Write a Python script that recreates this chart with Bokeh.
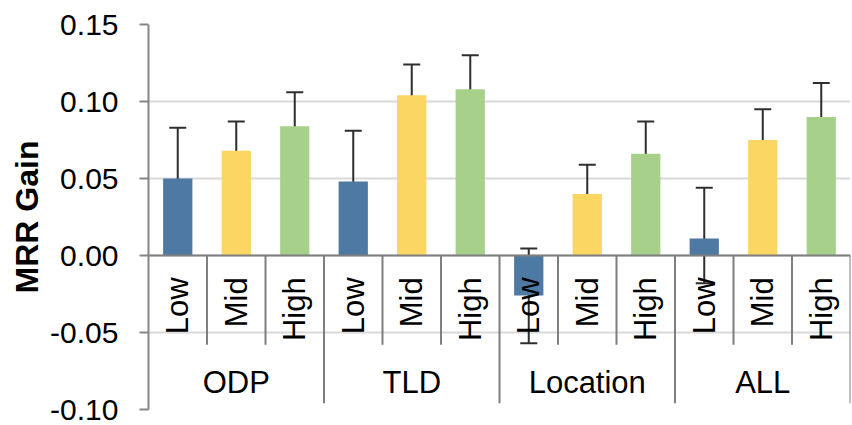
import math
from bokeh.plotting import figure
from bokeh.models import (Range1d, FixedTicker, NumeralTickFormatter, Whisker,
                          ColumnDataSource, Span, TeeHead)
from bokeh.core.properties import value
from bokeh.embed import file_html
from bokeh.resources import INLINE

# ---- data ----
groups = ["ODP", "TLD", "Location", "ALL"]
levels = ["Low", "Mid", "High"]
colors = ["#4d79a3", "#fbd662", "#a7d18b"]

low_vals = [0.050, 0.048, -0.026, 0.011]
low_err_lo = [0.0165, 0.0155, -0.057, -0.018]
low_err_hi = [0.083, 0.081, 0.0045, 0.044]

mid_vals = [0.068, 0.104, 0.040, 0.075]
mid_err_lo = [0.048, 0.085, 0.0225, 0.055]
mid_err_hi = [0.087, 0.124, 0.059, 0.095]

high_vals = [0.084, 0.108, 0.066, 0.090]
high_err_lo = [0.0625, 0.086, 0.045, 0.068]
high_err_hi = [0.106, 0.130, 0.087, 0.112]

y_ticks = [-0.10, -0.05, 0.00, 0.05, 0.10, 0.15]

series_vals = [low_vals, mid_vals, high_vals]
series_lo = [low_err_lo, mid_err_lo, high_err_lo]
series_hi = [low_err_hi, mid_err_hi, high_err_hi]

FONT = "Liberation Sans"
n_lv = len(levels)
n_slots = len(groups) * n_lv

p = figure(width=852, height=425, output_backend="svg", toolbar_location=None,
           x_range=Range1d(0, n_slots), y_range=Range1d(y_ticks[0], y_ticks[-1]),
           x_axis_location=None, min_border_left=148, min_border_right=2,
           min_border_top=24, min_border_bottom=16)
p.outline_line_color = None
p.background_fill_color = "white"
p.border_fill_color = "white"
p.xgrid.visible = False
p.ygrid.grid_line_color = "#d9d9d9"
p.ygrid.grid_line_width = 2
p.ygrid.ticker = FixedTicker(ticks=y_ticks)

ax = p.yaxis[0]
ax.ticker = FixedTicker(ticks=y_ticks)
ax.formatter = NumeralTickFormatter(format="0.00")
ax.axis_line_color = "#868686"
ax.axis_line_width = 2
ax.major_tick_line_color = "#868686"
ax.major_tick_line_width = 2
ax.major_tick_out = 9
ax.major_tick_in = 0
ax.minor_tick_out = 0
ax.minor_tick_in = 0
ax.major_label_text_font = FONT
ax.major_label_text_font_size = "30px"
ax.major_label_text_color = "black"
ax.major_label_standoff = 21
ax.axis_label = "MRR Gain"
ax.axis_label_text_font = FONT
ax.axis_label_text_font_size = "32px"
ax.axis_label_text_font_style = "bold"
ax.axis_label_text_color = "black"
ax.axis_label_standoff = 2

# bars
for li in range(n_lv):
    xs = [gi * n_lv + li + 0.5 for gi in range(len(groups))]
    src = ColumnDataSource(dict(x=xs, top=series_vals[li]))
    p.vbar(x="x", top="top", bottom=0, width=0.5, source=src,
           fill_color=colors[li], line_color=None)

# zero line
p.add_layout(Span(location=0, dimension="width", line_color="#7f7f7f", line_width=2))

# table separators
inner_x, group_x = [], []
for gi in range(len(groups)):
    for li in range(1, n_lv):
        inner_x.append(gi * n_lv + li)
    group_x.append((gi + 1) * n_lv)
p.segment(x0=inner_x, y0=[0] * len(inner_x), x1=inner_x, y1=[-0.058] * len(inner_x),
          line_color="#7f7f7f", line_width=2)
p.segment(x0=group_x, y0=[0] * len(group_x), x1=group_x, y1=[-0.096] * len(group_x),
          line_color="#7f7f7f", line_width=2)

# level labels
lx, lt = [], []
for gi in range(len(groups)):
    for li in range(n_lv):
        lx.append(gi * n_lv + li + 0.5)
        lt.append(levels[li])
p.text(x=lx, y=[-0.0142] * len(lx), text=lt, angle=math.pi / 2,
       text_align="right", text_baseline="middle",
       text_font=value(FONT), text_font_size="31px", text_color="black")

# group labels
gx = [gi * n_lv + n_lv / 2 for gi in range(len(groups))]
p.text(x=gx, y=[-0.0826] * len(gx), text=groups,
       text_align="center", text_baseline="middle",
       text_font=value(FONT), text_font_size="31px", text_color="black")

# whiskers on top
for li in range(n_lv):
    xs = [gi * n_lv + li + 0.5 for gi in range(len(groups))]
    src = ColumnDataSource(dict(x=xs, lo=series_lo[li], hi=series_hi[li]))
    w = Whisker(base="x", lower="lo", upper="hi", source=src,
                line_color="#2e2e2e", line_width=2,
                upper_head=TeeHead(size=17, line_color="#2e2e2e", line_width=2),
                lower_head=TeeHead(size=17, line_color="#2e2e2e", line_width=2))
    p.add_layout(w)

open("out.html", "w").write(file_html(p, INLINE))
